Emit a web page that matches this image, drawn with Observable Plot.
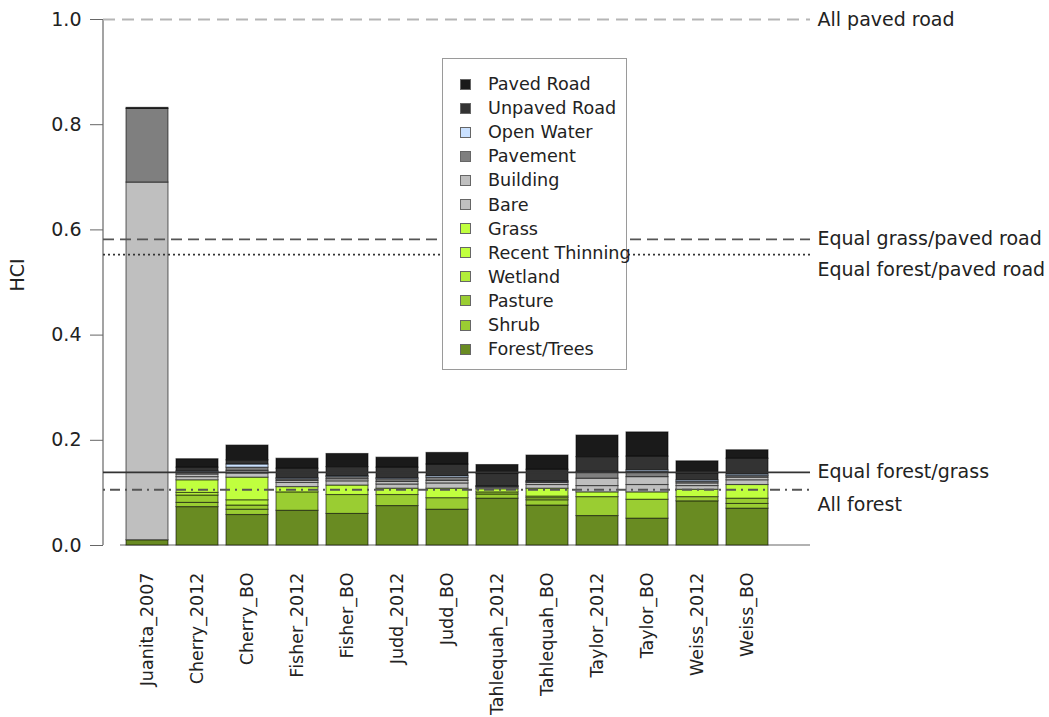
<!DOCTYPE html>
<html>
<head>
<meta charset="utf-8">
<script src="https://cdn.jsdelivr.net/npm/d3@7"></script>
<script src="https://cdn.jsdelivr.net/npm/@observablehq/plot@0.6"></script>
<style>
  body { margin: 0; background: #fff; font-family: "DejaVu Sans", sans-serif; }
  #wrap { position: relative; width: 1049px; height: 717px; }
  #legend {
    position: absolute; left: 442px; top: 58px; width: 185px; height: 312px;
    background: #fff; border: 1px solid #9a9a9a; box-sizing: border-box;
  }
  #legend .row {
    position: absolute; left: 0; height: 24px; display: flex; align-items: center;
    font-size: 17.6px; color: #222; white-space: nowrap;
  }
  #legend .sw {
    width: 11px; height: 11px; margin-left: 17px; margin-right: 17px;
    border: 1px solid #666; box-sizing: border-box;
  }
</style>
</head>
<body>
<div id="wrap">
  <div id="chart"></div>
  <div id="legend"></div>
</div>
<script>
// Sites (bar order, left to right)
const sites = [
  "Juanita_2007", "Cherry_2012", "Cherry_BO", "Fisher_2012", "Fisher_BO",
  "Judd_2012", "Judd_BO", "Tahlequah_2012", "Tahlequah_BO",
  "Taylor_2012", "Taylor_BO", "Weiss_2012", "Weiss_BO"
];

// Land-cover classes, stacked bottom to top
const categories = [
  "Forest/Trees", "Shrub", "Pasture", "Wetland", "Recent Thinning", "Grass",
  "Bare", "Building", "Pavement", "Open Water", "Unpaved Road", "Paved Road"
];
const categoryColors = [
  "#698b22", "#9acd32", "#9acd32", "#b3ee3a", "#c0ff3e", "#c0ff3e",
  "#bfbfbf", "#bfbfbf", "#7f7f7f", "#cae1ff", "#333333", "#1a1a1a"
];

// HCI contribution of each class, per site
const forestTrees    = [0.010, 0.073, 0.058, 0.066, 0.060, 0.075, 0.068, 0.089, 0.076, 0.056, 0.051, 0.084, 0.070];
const shrub          = [0.000, 0.008, 0.010, 0.035, 0.036, 0.021, 0.022, 0.008, 0.010, 0.036, 0.036, 0.008, 0.009];
const pasture        = [0.000, 0.014, 0.008, 0.000, 0.000, 0.000, 0.000, 0.004, 0.004, 0.000, 0.000, 0.000, 0.010];
const wetland        = [0.000, 0.005, 0.010, 0.000, 0.000, 0.000, 0.000, 0.000, 0.003, 0.000, 0.000, 0.000, 0.000];
const recentThinning = [0.000, 0.000, 0.000, 0.000, 0.000, 0.000, 0.000, 0.000, 0.000, 0.000, 0.000, 0.000, 0.000];
const grass          = [0.000, 0.024, 0.043, 0.010, 0.018, 0.012, 0.018, 0.006, 0.015, 0.009, 0.014, 0.014, 0.026];
const bare           = [0.000, 0.006, 0.008, 0.008, 0.008, 0.008, 0.010, 0.003, 0.007, 0.012, 0.014, 0.007, 0.009];
const building       = [0.680, 0.005, 0.005, 0.004, 0.004, 0.005, 0.005, 0.001, 0.004, 0.014, 0.015, 0.005, 0.005];
const pavement       = [0.140, 0.004, 0.006, 0.003, 0.004, 0.005, 0.006, 0.001, 0.002, 0.011, 0.010, 0.003, 0.003];
const openWater      = [0.000, 0.002, 0.006, 0.002, 0.002, 0.002, 0.003, 0.001, 0.001, 0.002, 0.003, 0.003, 0.003];
const unpavedRoad    = [0.000, 0.007, 0.008, 0.018, 0.017, 0.020, 0.022, 0.023, 0.022, 0.028, 0.026, 0.013, 0.030];
const pavedRoad      = [0.002, 0.016, 0.028, 0.019, 0.025, 0.019, 0.022, 0.017, 0.027, 0.041, 0.046, 0.023, 0.016];

const series = [forestTrees, shrub, pasture, wetland, recentThinning, grass,
                bare, building, pavement, openWater, unpavedRoad, pavedRoad];

// Reference HCI levels
const refLabels = ["All paved road", "Equal grass/paved road", "Equal forest/paved road", "Equal forest/grass", "All forest"];
const refValues = [1.0, 0.582, 0.553, 0.139, 0.106];
const refStyles = [
  {stroke: "#b5b5b5", dash: "12,7", width: 1.8},
  {stroke: "#555555", dash: "11,6", width: 1.8},
  {stroke: "#333333", dash: "2,3", width: 1.6},
  {stroke: "#333333", dash: null, width: 1.6},
  {stroke: "#555555", dash: "2,5,10,5", width: 1.8}
];

const yTicks = [0, 0.2, 0.4, 0.6, 0.8, 1.0];

const rows = categories.flatMap((category, i) =>
  sites.map((site, j) => ({site, category, value: series[i][j]}))
);

const refs = refLabels.map((label, i) => ({label, value: refValues[i], ...refStyles[i]}));
// a label sits just below its line when the line above it is too close
const shifted = refs.filter((d, i) => i > 0 && refs[i - 1].value - d.value < 0.05);
const level = refs.filter(d => !shifted.includes(d));

const chart = Plot.plot({
  width: 1049,
  height: 717,
  marginTop: 19,
  marginBottom: 172,
  marginLeft: 103,
  marginRight: 239,
  style: {fontFamily: "DejaVu Sans, sans-serif", color: "#222", background: "#fff"},
  x: {type: "band", domain: sites, range: [118, 776], padding: 0.16},
  y: {domain: [0, 1]},
  color: {domain: categories, range: categoryColors},
  marks: [
    // y axis line and zero baseline
    (index, scales, values, dimensions) => {
      const g = d3.create("svg:g");
      g.append("line")
        .attr("x1", dimensions.marginLeft).attr("x2", dimensions.marginLeft)
        .attr("y1", scales.y(0)).attr("y2", scales.y(1))
        .attr("stroke", "#666").attr("stroke-width", 1.2);
      g.append("line")
        .attr("x1", 120).attr("x2", dimensions.width - dimensions.marginRight)
        .attr("y1", scales.y(0)).attr("y2", scales.y(0))
        .attr("stroke", "#999").attr("stroke-width", 1.5);
      return g.node();
    },
    Plot.axisY({
      ticks: yTicks, tickFormat: d3.format(".1f"), tickSize: 13, tickPadding: 9,
      fontSize: 19, stroke: "#666", label: null
    }),
    // y axis title
    Plot.text(["HCI"], {
      y: 0.483, frameAnchor: "left", dx: -86, rotate: -90,
      fontSize: 19, fill: "#222"
    }),
    Plot.axisX({tickRotate: -90, tickSize: 0, tickPadding: 27, fontSize: 17.5, label: null}),
    Plot.barY(rows, {
      x: "site", y: "value", fill: "category", order: categories,
      stroke: "#000", strokeOpacity: 0.55, strokeWidth: 1.1
    }),
    ...refs.map(d => Plot.ruleY([d.value], {
      stroke: d.stroke, strokeWidth: d.width, strokeDasharray: d.dash
    })),
    Plot.text(level, {
      y: "value", text: "label", frameAnchor: "right", dx: 7,
      textAnchor: "start", fontSize: 19, fill: "#222"
    }),
    Plot.text(shifted, {
      y: "value", text: "label", frameAnchor: "right", dx: 7, dy: 15,
      textAnchor: "start", fontSize: 19, fill: "#222"
    })
  ]
});
document.getElementById("chart").appendChild(chart);

// Legend, top entry first
const legend = d3.select("#legend");
categories.slice().reverse().forEach((name, i) => {
  const color = categoryColors[categories.indexOf(name)];
  const row = legend.append("div").attr("class", "row").style("top", `${13 + i * 24.1}px`);
  row.append("div").attr("class", "sw").style("background", color);
  row.append("span").text(name);
});
</script>
</body>
</html>
